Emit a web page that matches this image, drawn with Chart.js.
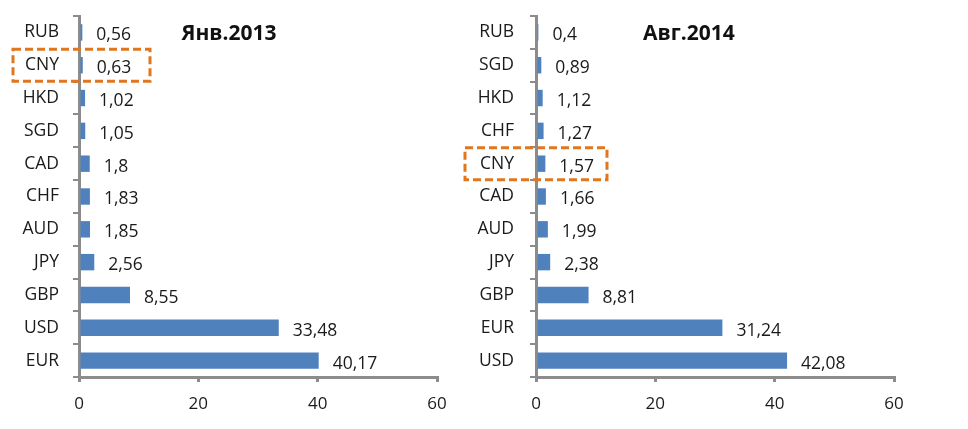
<!DOCTYPE html>
<html>
<head>
<meta charset="utf-8">
<script src="https://cdn.jsdelivr.net/npm/chart.js@4.4.1/dist/chart.umd.min.js"></script>
<style>
  html, body { margin: 0; padding: 0; background: #fff; }
  .wrap { position: absolute; top: 0; width: 484px; height: 429px; }
  #left { left: 0; }
  #right { left: 444px; width: 524px; }
</style>
</head>
<body>
<div class="wrap" id="left"><canvas id="c1"></canvas></div>
<div class="wrap" id="right"><canvas id="c2"></canvas></div>
<script>
// Jan 2013 shares, %
const labels2013 = ['RUB', 'CNY', 'HKD', 'SGD', 'CAD', 'CHF', 'AUD', 'JPY', 'GBP', 'USD', 'EUR'];
const values2013 = [0.56, 0.63, 1.02, 1.05, 1.8, 1.83, 1.85, 2.56, 8.55, 33.48, 40.17];
// Aug 2014 shares, %
const labels2014 = ['RUB', 'SGD', 'HKD', 'CHF', 'CNY', 'CAD', 'AUD', 'JPY', 'GBP', 'EUR', 'USD'];
const values2014 = [0.4, 0.89, 1.12, 1.27, 1.57, 1.66, 1.99, 2.38, 8.81, 31.24, 42.08];
const xTicks = [0, 20, 40, 60];

const FONT = "'Open Sans', 'Liberation Sans', sans-serif";
const AXIS = '#8c8c8c';

// value labels, title and the dashed box round CNY
const extras = {
  id: 'extras',
  afterDatasetsDraw(chart, args, opts) {
    const ctx = chart.ctx;
    const meta = chart.getDatasetMeta(0);
    const data = chart.data.datasets[0].data;
    ctx.save();
    ctx.font = '17.5px ' + FONT;
    ctx.fillStyle = '#1a1a1a';
    ctx.textBaseline = 'middle';
    ctx.textAlign = 'left';
    meta.data.forEach((bar, i) => {
      ctx.fillText(String(data[i]).replace('.', ','), bar.x + 14, bar.y + 3);
    });

    const area = chart.chartArea;
    ctx.font = 'bold 21px ' + FONT;
    ctx.fillStyle = '#111';
    ctx.textAlign = 'center';
    ctx.fillText(opts.title, area.left + opts.titleDx, chart.scales.y.getPixelForValue(0) + 2);

    const yc = chart.scales.y.getPixelForValue(chart.data.labels.indexOf('CNY'));
    ctx.strokeStyle = '#e0761f';
    ctx.lineWidth = 3;
    ctx.setLineDash([8, 4]);
    ctx.strokeRect(area.left - opts.boxL, yc - 16, opts.boxL + opts.boxR, 32);
    ctx.restore();
  }
};

function makeChart(id, labels, values, o) {
  return new Chart(document.getElementById(id), {
    type: 'bar',
    data: {
      labels: labels,
      datasets: [{
        data: values,
        backgroundColor: '#4f81bd',
        borderWidth: 0,
        barPercentage: 0.5,
        categoryPercentage: 1.0,
      }],
    },
    options: {
      indexAxis: 'y',
      responsive: false,
      animation: false,
      devicePixelRatio: 1,
      layout: { padding: { left: 0, right: o.padR, top: 16, bottom: 0 } },
      plugins: {
        legend: { display: false },
        tooltip: { enabled: false },
        extras: o,
      },
      scales: {
        y: {
          afterFit: s => { s.width = o.axisX; s.paddingTop = 0; s.paddingBottom = 0; },
          border: { display: true, color: AXIS, width: 3 },
          grid: { drawOnChartArea: false, drawTicks: true, tickLength: 6, color: AXIS, lineWidth: 2 },
          ticks: { color: '#1a1a1a', font: { family: FONT, size: 17.5 }, padding: o.labelPad },
        },
        x: {
          min: 0,
          max: 60,
          afterFit: s => { s.height = 52; },
          afterBuildTicks: s => { s.ticks = xTicks.map(v => ({ value: v })); },
          border: { display: true, color: AXIS, width: 3 },
          grid: { drawOnChartArea: false, drawTicks: true, tickLength: 5, color: AXIS, lineWidth: 3 },
          ticks: { color: '#1a1a1a', font: { family: FONT, size: 17 }, padding: 12, maxRotation: 0 },
        },
      },
    },
    plugins: [extras],
  });
}

function sizeCanvas(id, w, h) {
  const c = document.getElementById(id);
  c.width = w; c.height = h;
  c.style.width = w + 'px'; c.style.height = h + 'px';
}
sizeCanvas('c1', 484, 429);
sizeCanvas('c2', 524, 429);

// Chart.js puts the first category at the top for indexAxis 'y'
makeChart('c1', labels2013, values2013,
  { axisX: 79, padR: 47, labelPad: 14, title: 'Янв.2013', titleDx: 150, boxL: 66, boxR: 71 });
makeChart('c2', labels2014, values2014,
  { axisX: 92, padR: 74, labelPad: 16, title: 'Авг.2014', titleDx: 153, boxL: 71, boxR: 71 });
</script>
</body>
</html>
